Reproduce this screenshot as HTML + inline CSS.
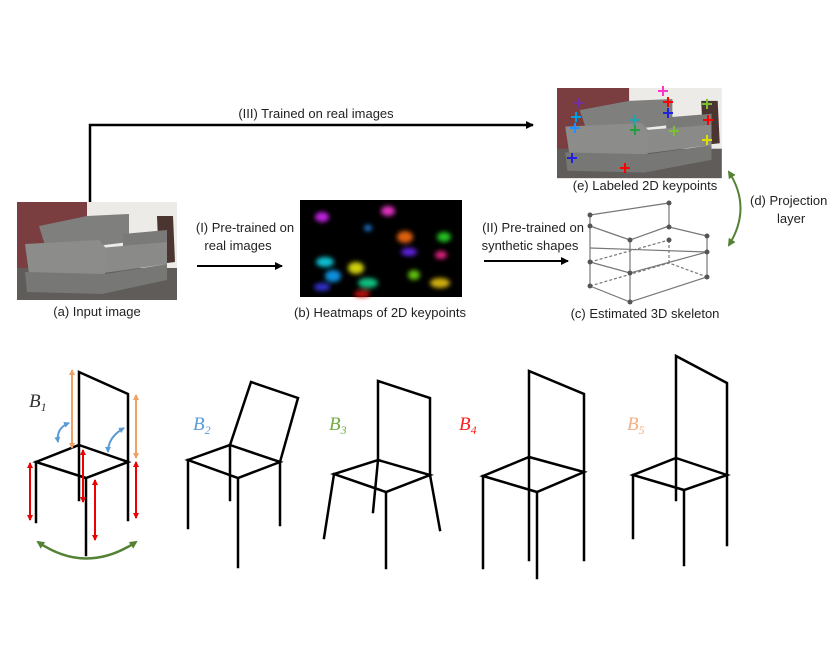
<!DOCTYPE html>
<html><head><meta charset="utf-8"><style>
body{margin:0;background:#fff;width:840px;height:659px;overflow:hidden}
svg text{font-family:"Liberation Sans",sans-serif;font-size:13px;fill:#222}
</style></head><body>
<svg width="840" height="659" viewBox="0 0 840 659" xmlns="http://www.w3.org/2000/svg">
<defs>
<marker id="ah" markerWidth="8" markerHeight="8" refX="7" refY="4" orient="auto" markerUnits="userSpaceOnUse"><path d="M0,0 L8,4 L0,8 z" fill="#000"/></marker>
<marker id="gh" markerWidth="8" markerHeight="8" refX="6" refY="4" orient="auto-start-reverse" markerUnits="userSpaceOnUse"><path d="M0,0 L8,4 L0,8 z" fill="#548235"/></marker>
<marker id="rh" markerWidth="6" markerHeight="6" refX="5" refY="3" orient="auto-start-reverse" markerUnits="userSpaceOnUse"><path d="M0,0 L6,3 L0,6 z" fill="#e00"/></marker>
<marker id="oh" markerWidth="6" markerHeight="6" refX="5" refY="3" orient="auto-start-reverse" markerUnits="userSpaceOnUse"><path d="M0,0 L6,3 L0,6 z" fill="#f0a060"/></marker>
<marker id="bh" markerWidth="6" markerHeight="6" refX="5" refY="3" orient="auto-start-reverse" markerUnits="userSpaceOnUse"><path d="M0,0 L6,3 L0,6 z" fill="#5b9bd5"/></marker>
<filter id="bl"><feGaussianBlur stdDeviation="2.5"/></filter>
<g id="sofa">
<rect x="0" y="0" width="160" height="98" fill="#ecebe8"/>
<rect x="0" y="0" width="70" height="68" fill="#7a3d40"/>
<rect x="0" y="66" width="160" height="32" fill="#5f5c5a"/>
<path d="M140,14 L156,14 L158,60 L142,62 Z" fill="#4a3530"/>
<path d="M22,24 L70,14 L112,12 L112,40 L30,50 Z" fill="#7f7f7d"/>
<path d="M106,32 L150,28 L150,62 L106,66 Z" fill="#7a7a78"/>
<path d="M60,48 L150,40 L150,62 L80,72 Z" fill="#8a8a88"/>
<path d="M8,42 L82,38 L88,45 L88,72 L12,72 Z" fill="#8c8c8a"/>
<path d="M8,70 L88,72 L150,62 L150,78 L85,92 L10,90 Z" fill="#777775"/>
</g>
</defs>

<!-- (a) input image -->
<use href="#sofa" x="17" y="202"/>
<text x="97" y="316" text-anchor="middle">(a) Input image</text>

<!-- (III) -->
<polyline points="90,202 90,125 533,125" fill="none" stroke="#000" stroke-width="2.5" marker-end="url(#ah)"/>
<text x="316" y="118" text-anchor="middle">(III) Trained on real images</text>

<!-- (I) -->
<text x="245" y="232" text-anchor="middle">(I) Pre-trained on</text>
<text x="238" y="250" text-anchor="middle">real images</text>
<line x1="197" y1="266" x2="282" y2="266" stroke="#000" stroke-width="2" marker-end="url(#ah)"/>

<!-- (b) heatmaps -->
<rect x="300" y="200" width="162" height="97" fill="#000"/>
<g filter="url(#bl)">
<ellipse cx="322" cy="217" rx="7" ry="5" fill="#c020e0"/>
<ellipse cx="388" cy="211" rx="7" ry="5" fill="#e030c0"/>
<ellipse cx="368" cy="228" rx="4" ry="3" fill="#2080e0"/>
<ellipse cx="405" cy="237" rx="8" ry="6" fill="#e06010"/>
<ellipse cx="444" cy="237" rx="7" ry="5" fill="#20c020"/>
<ellipse cx="409" cy="252" rx="8" ry="4" fill="#6020e0"/>
<ellipse cx="441" cy="255" rx="6" ry="4" fill="#e02080"/>
<ellipse cx="325" cy="262" rx="9" ry="5" fill="#10c0d0"/>
<ellipse cx="356" cy="268" rx="8" ry="6" fill="#d0d010"/>
<ellipse cx="333" cy="276" rx="8" ry="6" fill="#1090e0"/>
<ellipse cx="368" cy="283" rx="10" ry="5" fill="#10c080"/>
<ellipse cx="414" cy="275" rx="6" ry="5" fill="#60c010"/>
<ellipse cx="440" cy="283" rx="10" ry="5" fill="#d0b010"/>
<ellipse cx="322" cy="287" rx="8" ry="4" fill="#3030d0"/>
<ellipse cx="362" cy="294" rx="8" ry="3" fill="#e01010"/>
</g>
<text x="380" y="317" text-anchor="middle">(b) Heatmaps of 2D keypoints</text>

<!-- (II) -->
<text x="533" y="232" text-anchor="middle">(II) Pre-trained on</text>
<text x="530" y="250" text-anchor="middle">synthetic shapes</text>
<line x1="484" y1="261" x2="568" y2="261" stroke="#000" stroke-width="2" marker-end="url(#ah)"/>

<!-- (c) skeleton -->
<g stroke="#777" stroke-width="1.2" fill="none">
<polyline points="590,215 669,203 669,227 707,236 707,252 630,273 590,262 590,215"/>
<line x1="590" y1="226" x2="630" y2="240"/>
<line x1="630" y1="240" x2="669" y2="226"/>
<line x1="630" y1="240" x2="630" y2="273"/>
<polyline points="590,262 590,286 630,302 707,277 707,252"/>
<line x1="630" y1="273" x2="630" y2="302"/>
<polyline points="590,286 669,263 707,277" stroke-dasharray="3,2"/>
<line x1="669" y1="240" x2="669" y2="263" stroke-dasharray="3,2"/>
<line x1="590" y1="262" x2="669" y2="240" stroke-dasharray="3,2"/>
<line x1="590" y1="248" x2="707" y2="252"/>
</g>
<g fill="#555">
<circle cx="590" cy="215" r="2.5"/><circle cx="669" cy="203" r="2.5"/><circle cx="669" cy="227" r="2.5"/>
<circle cx="707" cy="236" r="2.5"/><circle cx="707" cy="252" r="2.5"/><circle cx="630" cy="273" r="2.5"/>
<circle cx="590" cy="262" r="2.5"/><circle cx="590" cy="226" r="2.5"/><circle cx="630" cy="240" r="2.5"/>
<circle cx="590" cy="286" r="2.5"/><circle cx="630" cy="302" r="2.5"/><circle cx="707" cy="277" r="2.5"/>
<circle cx="669" cy="240" r="2.5"/>
</g>
<text x="645" y="318" text-anchor="middle">(c) Estimated 3D skeleton</text>

<!-- (e) labeled -->
<g transform="translate(557,88) scale(1.03,0.92)"><use href="#sofa"/></g>
<g stroke-width="2">
<path d="M578,98v10M573,103h10" stroke="#7030a0"/>
<path d="M576,112v10M571,117h10" stroke="#00a0e0"/>
<path d="M575,123v10M570,128h10" stroke="#1e90ff"/>
<path d="M572,153v10M567,158h10" stroke="#2020e0"/>
<path d="M663,86v10M658,91h10" stroke="#ff33cc"/>
<path d="M668,97v10M663,102h10" stroke="#f00"/>
<path d="M668,108v10M663,113h10" stroke="#2020e0"/>
<path d="M707,99v10M702,104h10" stroke="#7ac030"/>
<path d="M708,115v10M703,120h10" stroke="#f00"/>
<path d="M634,115v10M629,120h10" stroke="#20a0b0"/>
<path d="M635,125v10M630,130h10" stroke="#20a040"/>
<path d="M674,126v10M669,131h10" stroke="#7ac030"/>
<path d="M707,135v10M702,140h10" stroke="#e0e000"/>
<path d="M625,163v10M620,168h10" stroke="#f00"/>
</g>
<text x="645" y="190" text-anchor="middle">(e) Labeled 2D keypoints</text>

<!-- (d) -->
<path d="M729,172 Q752,208 729,245" fill="none" stroke="#548235" stroke-width="2" marker-start="url(#gh)" marker-end="url(#gh)"/>
<text x="750" y="205">(d) Projection</text>
<text x="777" y="223">layer</text>

<!-- chairs -->
<g stroke="#000" stroke-width="2.5" fill="none" stroke-linecap="square">
<polyline points="79,500 79,372 128,394 128,520"/>
<polygon points="79,445 128,462 86,478 36,462"/>
<line x1="36" y1="462" x2="36" y2="522"/><line x1="86" y1="478" x2="86" y2="555"/>
<polyline points="230,445 251,382 298,398 280,462"/>
<polygon points="230,445 280,462 238,478 188,460"/>
<line x1="188" y1="460" x2="188" y2="528"/><line x1="238" y1="478" x2="238" y2="567"/>
<line x1="280" y1="462" x2="280" y2="525"/><line x1="230" y1="445" x2="230" y2="500"/>
<polyline points="378,460 378,381 430,398 430,475"/>
<polygon points="378,460 430,475 386,492 334,474"/>
<line x1="334" y1="474" x2="324" y2="538"/><line x1="386" y1="492" x2="386" y2="568"/>
<line x1="430" y1="475" x2="440" y2="530"/><line x1="378" y1="460" x2="373" y2="512"/>
<polyline points="529,560 529,371 584,394 584,560"/>
<polygon points="529,457 584,472 537,492 483,476"/>
<line x1="483" y1="476" x2="483" y2="568"/><line x1="537" y1="492" x2="537" y2="578"/>
<polyline points="676,500 676,356 727,383 727,545"/>
<polygon points="676,458 727,475 684,490 633,475"/>
<line x1="633" y1="475" x2="633" y2="538"/><line x1="684" y1="490" x2="684" y2="565"/>
</g>
<g stroke-width="2" fill="none">
<line x1="30" y1="463" x2="30" y2="520" stroke="#e00" marker-start="url(#rh)" marker-end="url(#rh)"/>
<line x1="83" y1="450" x2="83" y2="502" stroke="#e00" marker-start="url(#rh)" marker-end="url(#rh)"/>
<line x1="95" y1="480" x2="95" y2="540" stroke="#e00" marker-start="url(#rh)" marker-end="url(#rh)"/>
<line x1="136" y1="462" x2="136" y2="518" stroke="#e00" marker-start="url(#rh)" marker-end="url(#rh)"/>
<line x1="72" y1="370" x2="72" y2="448" stroke="#f0a060" marker-start="url(#oh)" marker-end="url(#oh)"/>
<line x1="136" y1="395" x2="136" y2="458" stroke="#f0a060" marker-start="url(#oh)" marker-end="url(#oh)"/>
<path d="M69,423 Q56,428 58,442" stroke="#5b9bd5" marker-start="url(#bh)" marker-end="url(#bh)"/>
<path d="M124,428 Q108,437 108,452" stroke="#5b9bd5" marker-start="url(#bh)" marker-end="url(#bh)"/>
<path d="M38,542 Q86,575 136,542" stroke="#548235" stroke-width="2.5" marker-start="url(#gh)" marker-end="url(#gh)"/>
</g>
<g font-style="italic">
<text x="29" y="407" style="font-size:19px;fill:#333;font-family:'Liberation Serif',serif">B<tspan font-size="12" dy="4">1</tspan></text>
<text x="193" y="430" style="font-size:19px;fill:#5b9bd5;font-family:'Liberation Serif',serif">B<tspan font-size="12" dy="4">2</tspan></text>
<text x="329" y="430" style="font-size:19px;fill:#70ad47;font-family:'Liberation Serif',serif">B<tspan font-size="12" dy="4">3</tspan></text>
<text x="459" y="430" style="font-size:19px;fill:#ff2020;font-family:'Liberation Serif',serif">B<tspan font-size="12" dy="4">4</tspan></text>
<text x="627" y="430" style="font-size:19px;fill:#f4b183;font-family:'Liberation Serif',serif">B<tspan font-size="12" dy="4">5</tspan></text>
</g>
</svg>
</body></html>
